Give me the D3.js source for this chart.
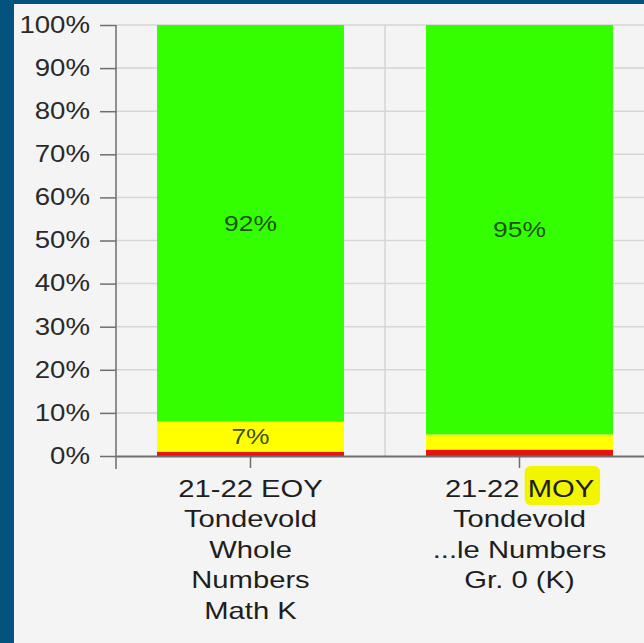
<!DOCTYPE html>
<html>
<head>
<meta charset="utf-8">
<script src="https://cdn.jsdelivr.net/npm/d3@7"></script>
<style>
  html, body { margin: 0; padding: 0; background: #04527e; }
  svg { display: block; }
</style>
</head>
<body>
<svg id="chart" width="644" height="643"></svg>
<script>
// Data
const categories = ["eoy", "moy"];
const labelLines = [
    ["21-22 EOY", "Tondevold", "Whole", "Numbers", "Math K"],
    ["21-22 MOY", "Tondevold", "...le Numbers", "Gr. 0 (K)"]
];
const redValues = [1, 1.5];
const yellowValues = [7, 3.5];
const greenValues = [92, 95];
const yTicks = [0, 10, 20, 30, 40, 50, 60, 70, 80, 90, 100];

const svg = d3.select("#chart");
const W = 644, H = 643;
const font = "'Liberation Sans', Arial, sans-serif";
const stretch = 1.2; // text in the picture looks horizontally stretched

// panel
svg.append("rect").attr("width", W).attr("height", H).attr("fill", "#04527e");
svg.append("rect").attr("x", 14).attr("y", 4).attr("width", W - 14).attr("height", H - 4).attr("fill", "#f4f4f4");

// scales
const y = d3.scaleLinear().domain([0, 100]).range([456, 25]);
const x = d3.scaleBand()
    .domain(categories)
    .range([116, 654])
    .paddingInner(0.305)
    .paddingOuter(0.1525);

// grid
const grid = svg.append("g");
grid.selectAll("line.h")
    .data(yTicks.slice(1))
    .enter().append("line")
    .attr("x1", 116).attr("x2", W)
    .attr("y1", d => y(d)).attr("y2", d => y(d))
    .attr("stroke", "#d6d6d6").attr("stroke-width", 1.5);
grid.selectAll("line.v")
    .data(d3.range(1, categories.length + 1))
    .enter().append("line")
    .attr("x1", i => x.range()[0] + i * x.step()).attr("x2", i => x.range()[0] + i * x.step())
    .attr("y1", y(100)).attr("y2", y(0))
    .attr("stroke", "#d6d6d6").attr("stroke-width", 1.5);

// stacked bars
const rows = categories.map((c, i) => ({ cat: c, red: redValues[i], yellow: yellowValues[i], green: greenValues[i] }));
const keys = ["red", "yellow", "green"];
const colors = { red: "#e2160e", yellow: "#ffff00", green: "#33ff00" };
const series = d3.stack().keys(keys)(rows);

const layers = svg.append("g").selectAll("g")
    .data(series)
    .enter().append("g")
    .attr("fill", d => colors[d.key]);

layers.selectAll("rect")
    .data(d => d)
    .enter().append("rect")
    .attr("x", d => x(d.data.cat))
    .attr("width", x.bandwidth())
    .attr("y", d => y(d[1]))
    .attr("height", d => y(d[0]) - y(d[1]));

// value labels (only for big enough segments)
layers.selectAll("text")
    .data(d => d.filter(s => s[1] - s[0] >= 5))
    .enter().append("text")
    .attr("transform", d => `translate(${x(d.data.cat) + x.bandwidth() / 2},${(y(d[0]) + y(d[1])) / 2}) scale(${stretch},1)`)
    .attr("text-anchor", "middle")
    .attr("dy", "0.35em")
    .attr("fill", "#1b3a0e")
    .attr("fill-opacity", 0.9)
    .style("font-family", font)
    .style("font-size", "22px")
    .text(d => Math.round(d[1] - d[0]) + "%");

// y axis
const yAxis = svg.append("g")
    .attr("transform", "translate(116,0)")
    .call(d3.axisLeft(y).tickValues(yTicks).tickFormat(d => d + "%").tickSize(16).tickSizeOuter(0));
yAxis.select(".domain").remove();
yAxis.selectAll(".tick line").attr("stroke", "#6e6e6e").attr("stroke-width", 1.5);
yAxis.selectAll(".tick text")
    .attr("x", null)
    .attr("transform", `translate(-26,0) scale(${stretch},1)`)
    .attr("fill", "#2a2a2a")
    .style("font-family", font)
    .style("font-size", "23px");
yAxis.append("line")
    .attr("x1", 0).attr("x2", 0)
    .attr("y1", y(100)).attr("y2", y(0) + 13)
    .attr("stroke", "#6e6e6e").attr("stroke-width", 1.5);

// x axis
const xAxis = svg.append("g")
    .attr("transform", `translate(0,${y(0)})`)
    .call(d3.axisBottom(x).tickSize(12).tickSizeOuter(0).tickFormat(""));
xAxis.select(".domain").attr("stroke", "#6e6e6e").attr("stroke-width", 2);
xAxis.selectAll(".tick line").attr("stroke", "#6e6e6e").attr("stroke-width", 1.5);

// yellow highlight layer (drawn under the labels)
const highlight = svg.append("g");

// category labels
const lineH = 30.5;
const labStretch = 1.27;
const catLabels = svg.append("g").selectAll("text")
    .data(categories)
    .enter().append("text")
    .attr("transform", d => `translate(${x(d) + x.bandwidth() / 2},497) scale(${labStretch},1)`)
    .attr("text-anchor", "middle")
    .attr("fill", "#1e1e1e")
    .style("font-family", font)
    .style("font-size", "23px");

catLabels.each(function (d, i) {
    d3.select(this).selectAll("tspan")
        .data(labelLines[i])
        .enter().append("tspan")
        .attr("x", 0)
        .attr("y", (l, j) => j * lineH)
        .text(l => l);
});

// hand-drawn yellow highlight behind "MOY"
const firstLine = catLabels.filter(d => d === "moy").select("tspan").node();
const full = firstLine.getComputedTextLength();
const pre = firstLine.getSubStringLength(0, 6);
const cx = x("moy") + x.bandwidth() / 2;
const hx0 = cx + (pre - full / 2) * labStretch - 3;
const hx1 = cx + (full / 2) * labStretch + 6;
highlight.append("rect")
    .attr("x", hx0).attr("y", 466)
    .attr("width", hx1 - hx0).attr("height", 39)
    .attr("rx", 6)
    .attr("fill", "#f2f500");
</script>
</body>
</html>
